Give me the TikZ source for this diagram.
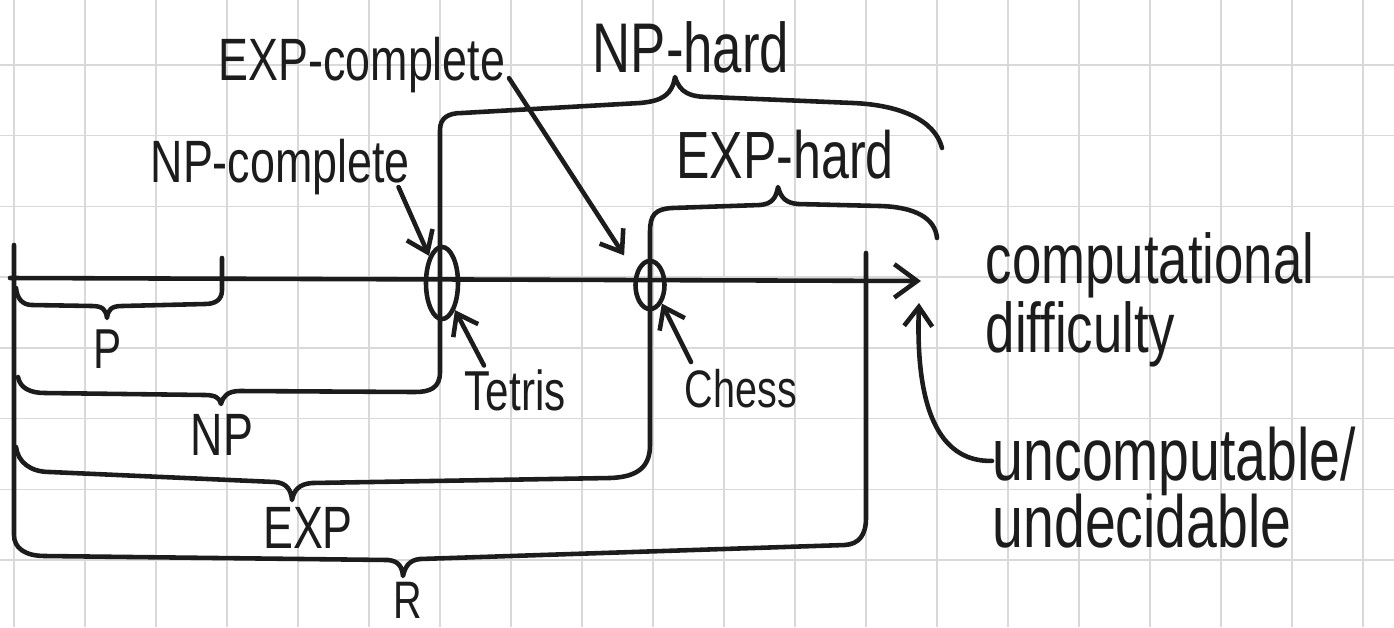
\documentclass[tikz,border=0pt]{standalone}
\usepackage{fontspec}
\setmainfont{Liberation Sans}[FakeStretch=0.75]
\usetikzlibrary{shapes,arrows.meta,positioning,calc}
\definecolor{ink}{HTML}{1C1C1C}

\begin{document}
\begin{tikzpicture}[x=0.01cm, y=-0.01cm,
  pen/.style={line width=1.3pt, draw=ink, line cap=round, line join=round},
  gridline/.style={line width=0.4pt, draw=gray!30},
  pointer/.style={pen, -{Straight Barb[length=5.5pt, width=8pt]}},
  hand/.style={inner sep=0pt, text=ink, font=\fontsize{#1}{#1}\selectfont},
  oval/.style={ellipse, draw=ink, line width=1.3pt, inner sep=0pt}
]

\useasboundingbox (0,0) rectangle (1394,627);

% squared paper
\foreach \gx in {0,...,19}
  \draw[gridline] ({14+71*\gx},0) -- ({14+71*\gx},627);
\foreach \gy in {0,...,8}
  \draw[gridline] (0,{65+70.7*\gy}) -- (1394,{65+70.7*\gy});

% the difficulty axis
\coordinate (axisstart) at (10,278);
\coordinate (axisend) at (921,281);
\draw[pen, -{Straight Barb[length=6.5pt, width=9.5pt]}] (axisstart) -- (axisend);

% R: left edge, bottom brace, right edge
\draw[pen] (14,245) -- (14,535) .. controls (14,548) and (25,556) .. (45,556)
  -- (388,560) .. controls (399,561) and (402,567) .. (403,576)
  .. controls (405,567) and (409,560) .. (420,559)
  -- (845,545) .. controls (859,544) and (866,535) .. (866,518) -- (866,253);

% P
\draw[pen] (222,258) -- (222,290) .. controls (222,300) and (215,304) .. (205,304)
  -- (122,306) .. controls (111,306) and (108,310) .. (107,318)
  .. controls (106,310) and (103,306) .. (92,306)
  -- (32,305) .. controls (22,305) and (17,298) .. (16,288);

% NP and NP-hard
\draw[pen] (18,377) .. controls (20,388) and (30,393) .. (45,393)
  -- (205,395) .. controls (215,395) and (220,398) .. (221,404)
  .. controls (223,396) and (228,391) .. (240,391)
  -- (415,392) .. controls (430,392) and (440,388) .. (440,372)
  -- (440,130) .. controls (440,118) and (448,113) .. (462,113)
  -- (640,103) .. controls (662,101) and (672,95) .. (675,77)
  .. controls (680,93) and (690,97) .. (710,97)
  -- (853,103) .. controls (900,105) and (935,120) .. (942,148);

% EXP and EXP-hard
\draw[pen] (16,447) .. controls (18,462) and (30,472) .. (50,472)
  -- (275,482) .. controls (287,483) and (291,490) .. (292,500)
  .. controls (294,490) and (299,484) .. (312,483)
  -- (610,478) .. controls (640,477) and (650,465) .. (650,445)
  -- (650,232) .. controls (650,215) and (655,209) .. (672,208)
  -- (760,205) .. controls (772,204) and (776,198) .. (778,187)
  .. controls (781,198) and (786,203) .. (798,204)
  -- (880,206) .. controls (915,207) and (935,218) .. (937,238);

% complete problems on the axis
\node[oval, minimum width=0.32cm, minimum height=0.72cm] (tetris) at (442,283) {};
\node[oval, minimum width=0.29cm, minimum height=0.48cm] (chess) at (650,285) {};

% labels
\node[hand=17, anchor=base west] (npc) at (150,182) {NP-complete};
\node[hand=17, anchor=base west] (expc) at (218,80) {EXP-complete};
\node[hand=20, anchor=base] (nph) at (691,72) {NP-hard};
\node[hand=19, anchor=base] (exph) at (785,178) {EXP-hard};
\node[hand=16, anchor=base west] (tetrislbl) at (464,410) {Tetris};
\node[hand=15, anchor=base west] (chesslbl) at (684,407) {Chess};
\node[hand=16, anchor=base] (plbl) at (108,368) {P};
\node[hand=17, anchor=base] (nplbl) at (222,455) {NP};
\node[hand=17, anchor=base] (explbl) at (308,548) {EXP};
\node[hand=15, anchor=base] (rlbl) at (408,618) {R};

\node[hand=20, anchor=base west] (comp) at (985,283) {computational};
\node[hand=20, anchor=base west] (diff) at (985,352) {difficulty};
\node[hand=21, anchor=base west] (uncomp) at (992,480) {uncomputable/};
\node[hand=21, anchor=base west] (undec) at (992,547) {undecidable};

% pointers
\coordinate (beyond) at (919,303);
\draw[pointer] ([shift={(-12,-8)}]npc.south east) -- (tetris.north west);
\draw[pointer] ([shift={(3,-15)}]expc.south east) -- ([shift={(-14,-11)}]chess.north west);
\draw[pointer] ([shift={(20,-3)}]tetrislbl.north west) -- (tetris.south east);
\draw[pointer] ([shift={(7,-6)}]chesslbl.north west) -- (chess.south east);
\draw[pointer] (uncomp.west) .. controls (945,462) and (915,420) .. (beyond);

\end{tikzpicture}
\end{document}
